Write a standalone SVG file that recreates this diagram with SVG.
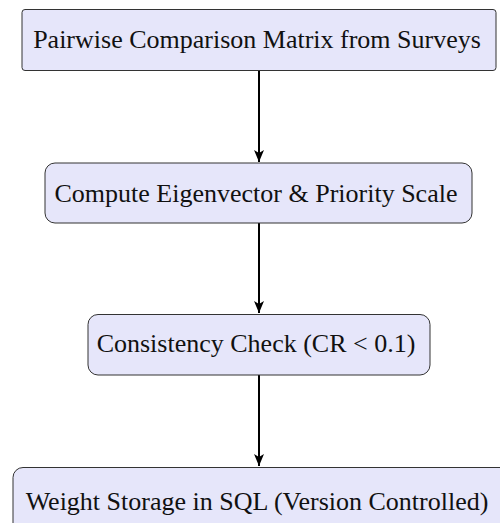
<svg xmlns="http://www.w3.org/2000/svg" width="500" height="523" viewBox="0 0 500 523">
<defs>
<marker id="arr" viewBox="0 0 12 10" refX="12" refY="5" markerWidth="12" markerHeight="10" markerUnits="userSpaceOnUse" orient="auto">
<path d="M0,0 L12,5 L0,10 L3,5 z" fill="#000"/>
</marker>
<style>
.box{fill:#e6e6fa;stroke:#333;stroke-width:1}
.lbl{font-family:"Liberation Serif","Times New Roman",serif;font-size:26px;fill:#111;text-anchor:middle}
.edge{stroke:#000;stroke-width:2;fill:none}
</style>
</defs>
<rect width="500" height="523" fill="#fff"/>
<g id="connectors">
<line class="edge" x1="259" y1="71" x2="259" y2="162" marker-end="url(#arr)"/>
<line class="edge" x1="259" y1="223" x2="259" y2="313" marker-end="url(#arr)"/>
<line class="edge" x1="259" y1="375" x2="259" y2="466" marker-end="url(#arr)"/>
</g>
<g id="n1">
<rect class="box" x="22" y="9.5" width="474" height="61" rx="3"/>
<text class="lbl" x="257" y="48">Pairwise Comparison Matrix from Surveys</text>
</g>
<g id="n2">
<rect class="box" x="45" y="163" width="427" height="60" rx="10"/>
<text class="lbl" x="256" y="202">Compute Eigenvector &amp; Priority Scale</text>
</g>
<g id="n3">
<rect class="box" x="88" y="314.5" width="342" height="60.5" rx="10"/>
<text class="lbl" x="256" y="352">Consistency Check (CR &lt; 0.1)</text>
</g>
<g id="n4">
<rect class="box" x="13" y="467.5" width="500" height="70" rx="10"/>
<text class="lbl" x="257" y="510">Weight Storage in SQL (Version Controlled)</text>
</g>
</svg>
